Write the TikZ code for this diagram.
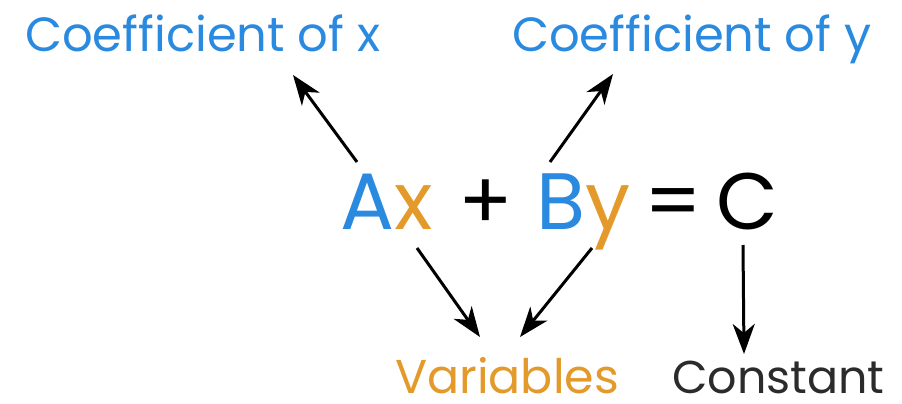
\documentclass[tikz,border=0pt]{standalone}
\usepackage{fontspec}
\setmainfont{Poppins}
\usetikzlibrary{arrows.meta,calc}
\definecolor{cblue}{HTML}{2A8AE0}
\definecolor{corange}{HTML}{E39A2B}
\definecolor{cdark}{HTML}{2B2B2B}
\begin{document}
\begin{tikzpicture}[x=1pt,y=-1pt,
  lbl/.style={inner sep=0pt,anchor=base west,font=\fontsize{48}{58}\selectfont},
  bot/.style={inner sep=0pt,anchor=base west,font=\fontsize{46}{56}\selectfont},
  eq/.style={inner sep=0pt,anchor=base west,font=\fontsize{80}{90}\selectfont},
  arr/.style={line width=3pt,-{Stealth[length=30pt,width=22pt,inset=9pt]}}]
\useasboundingbox (0,0) rectangle (902,404);
\node[lbl,text=cblue] (cx) at (25,52) {Coefficient of x};
\node[lbl,text=cblue] (cy) at (512,52) {Coefficient of y};
\node[eq,text=cblue] (A) at (340,229) {A};
\node[eq,text=corange] (x) at (A.base east) {x};
\node[eq] (plus) at (458,229) {+};
\node[eq,text=cblue] (B) at (536,229) {B};
\node[eq,text=corange] (y) at (B.base east) {y};
\node[eq] (eqs) at (644,229) {=};
\node[eq] (C) at (716,229) {C};
\node[bot,text=corange,font=\fontsize{47.5}{56}\selectfont] (var) at (395,393) {Variables};
\node[bot,text=cdark] (con) at (672,393) {Constant};
\draw[arr] ($(A.base west)+(17,-67)$) -- ($(cx.base west)+(268,23)$);
\draw[arr] ($(B.base west)+(14,-67)$) -- ($(cy.base west)+(101,22)$);
\draw[arr] ($(A.base west)+(77,19)$) -- ($(var.base west)+(85,-56)$);
\draw[arr] ($(B.base west)+(56,19)$) -- ($(var.base west)+(125,-56)$);
\draw[arr] ($(C.base west)+(27,16)$) -- ($(con.base west)+(72,-39)$);
\end{tikzpicture}
\end{document}
